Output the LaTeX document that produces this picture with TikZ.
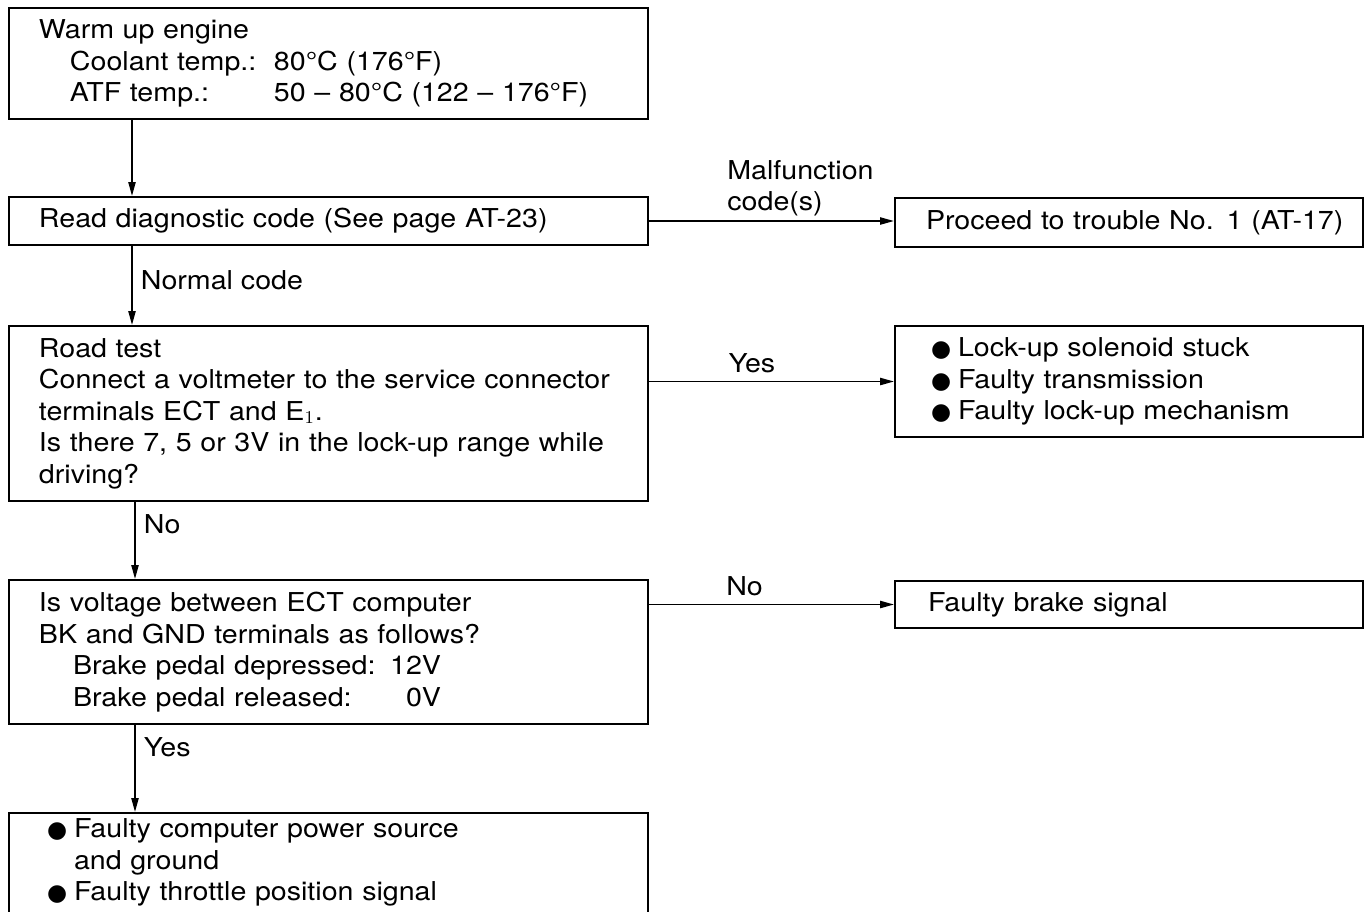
\documentclass[tikz,border=0pt]{standalone}
\usepackage{fontspec}
\setmainfont{TeX Gyre Heros}[FakeStretch=1.1]
\newfontfamily\dotfont{DejaVu Sans}
\usepackage{tikz}
\usetikzlibrary{arrows.meta, positioning}
\newcommand{\chartfont}{\fontsize{13}{15.75}\selectfont}
\newcommand{\bul}{\makebox[13.5pt][l]{\dotfont\fontsize{11.5}{12}\selectfont ●}}
\tikzset{
  stepbox/.style={draw, line width=1pt, anchor=north west, align=left,
    inner ysep=0pt, font=\chartfont},
  leftbox/.style={stepbox, inner xsep=15pt, text width=289.5pt},
  rightbox/.style={stepbox, inner xsep=15.5pt, text width=203pt},
  flow/.style={line width=0.9pt, -{Triangle[length=7pt,width=3.6pt]}},
  answer/.style={font=\chartfont, align=left, inner sep=4pt}
}

\begin{document}
\begin{tikzpicture}[x=0.5pt, y=-0.5pt]
    \useasboundingbox (0,0) rectangle (1364,911);
    \clip (0,0) rectangle (1364,911);

    \node[leftbox, minimum height=55.5pt] (warm) at (8,7) {
      Warm up engine\\
      \hspace*{15.5pt}\makebox[102pt][l]{Coolant temp.:}80°C (176°F)\\
      \hspace*{15.5pt}\makebox[102pt][l]{ATF temp.:}50 -- 80°C (122 -- 176°F)
    };
    \node[leftbox, minimum height=24pt] (read) at (8,196)
      {Read diagnostic code (See page AT-23)};
    \node[rightbox, minimum height=24.5pt] (trouble) at (894,197)
      {\mbox{Proceed to trouble No. 1 (AT-17)}};
    \node[leftbox, minimum height=87.5pt] (road) at (8,325) {
      Road test\\
      Connect a voltmeter to the service connector\\
      terminals ECT and E$_1$.\\
      Is there 7, 5 or 3V in the lock-up range while\\
      driving?
    };
    \node[rightbox, inner xsep=18pt, text width=198pt, minimum height=55.5pt] (lockup) at (894,325) {
      \bul Lock-up solenoid stuck\\
      \bul Faulty transmission\\
      \bul Faulty lock-up mechanism
    };
    \node[leftbox, minimum height=72pt] (volt) at (8,579) {
      Is voltage between ECT computer\\
      BK and GND terminals as follows?\\
      \hspace*{17pt}\makebox[159pt][l]{Brake pedal depressed:}\makebox[25pt][r]{12V}\\
      \hspace*{17pt}\makebox[159pt][l]{Brake pedal released:}\makebox[25pt][r]{0V}
    };
    \node[rightbox, inner xsep=16.5pt, text width=201pt, minimum height=23.5pt] (brake) at (894,580)
      {Faulty brake signal};
    \node[leftbox, inner xsep=19pt, text width=281.5pt, inner ysep=3pt, text depth=60pt] (power) at (8,812) {
      \bul Faulty computer power source\\
      \hspace*{13.5pt}and ground\\
      \bul Faulty throttle position signal
    };

    \draw[flow] ([xshift=62pt]warm.south west) -- ([xshift=62pt]read.north west);
    \draw[flow] (read.east) -- node[answer, above right, inner sep=2pt, pos=0.3] {Malfunction\\code(s)} (read.east -| trouble.west);
    \draw[flow] ([xshift=62pt]read.south west) -- node[answer, right, pos=0.43] {Normal code} ([xshift=62pt]road.north west);
    \draw[flow] (lockup.west -| road.east) -- node[answer, above, pos=0.42] {Yes} (lockup.west);
    \draw[flow] ([xshift=63.5pt]road.south west) -- node[answer, right, pos=0.29] {No} ([xshift=63.5pt]volt.north west);
    \draw[flow] (brake.west -| volt.east) -- node[answer, above, pos=0.39] {No} (brake.west);
    \draw[flow] ([xshift=63.5pt]volt.south west) -- node[answer, right, pos=0.26] {Yes} ([xshift=63.5pt]power.north west);
  \end{tikzpicture}
\end{document}
